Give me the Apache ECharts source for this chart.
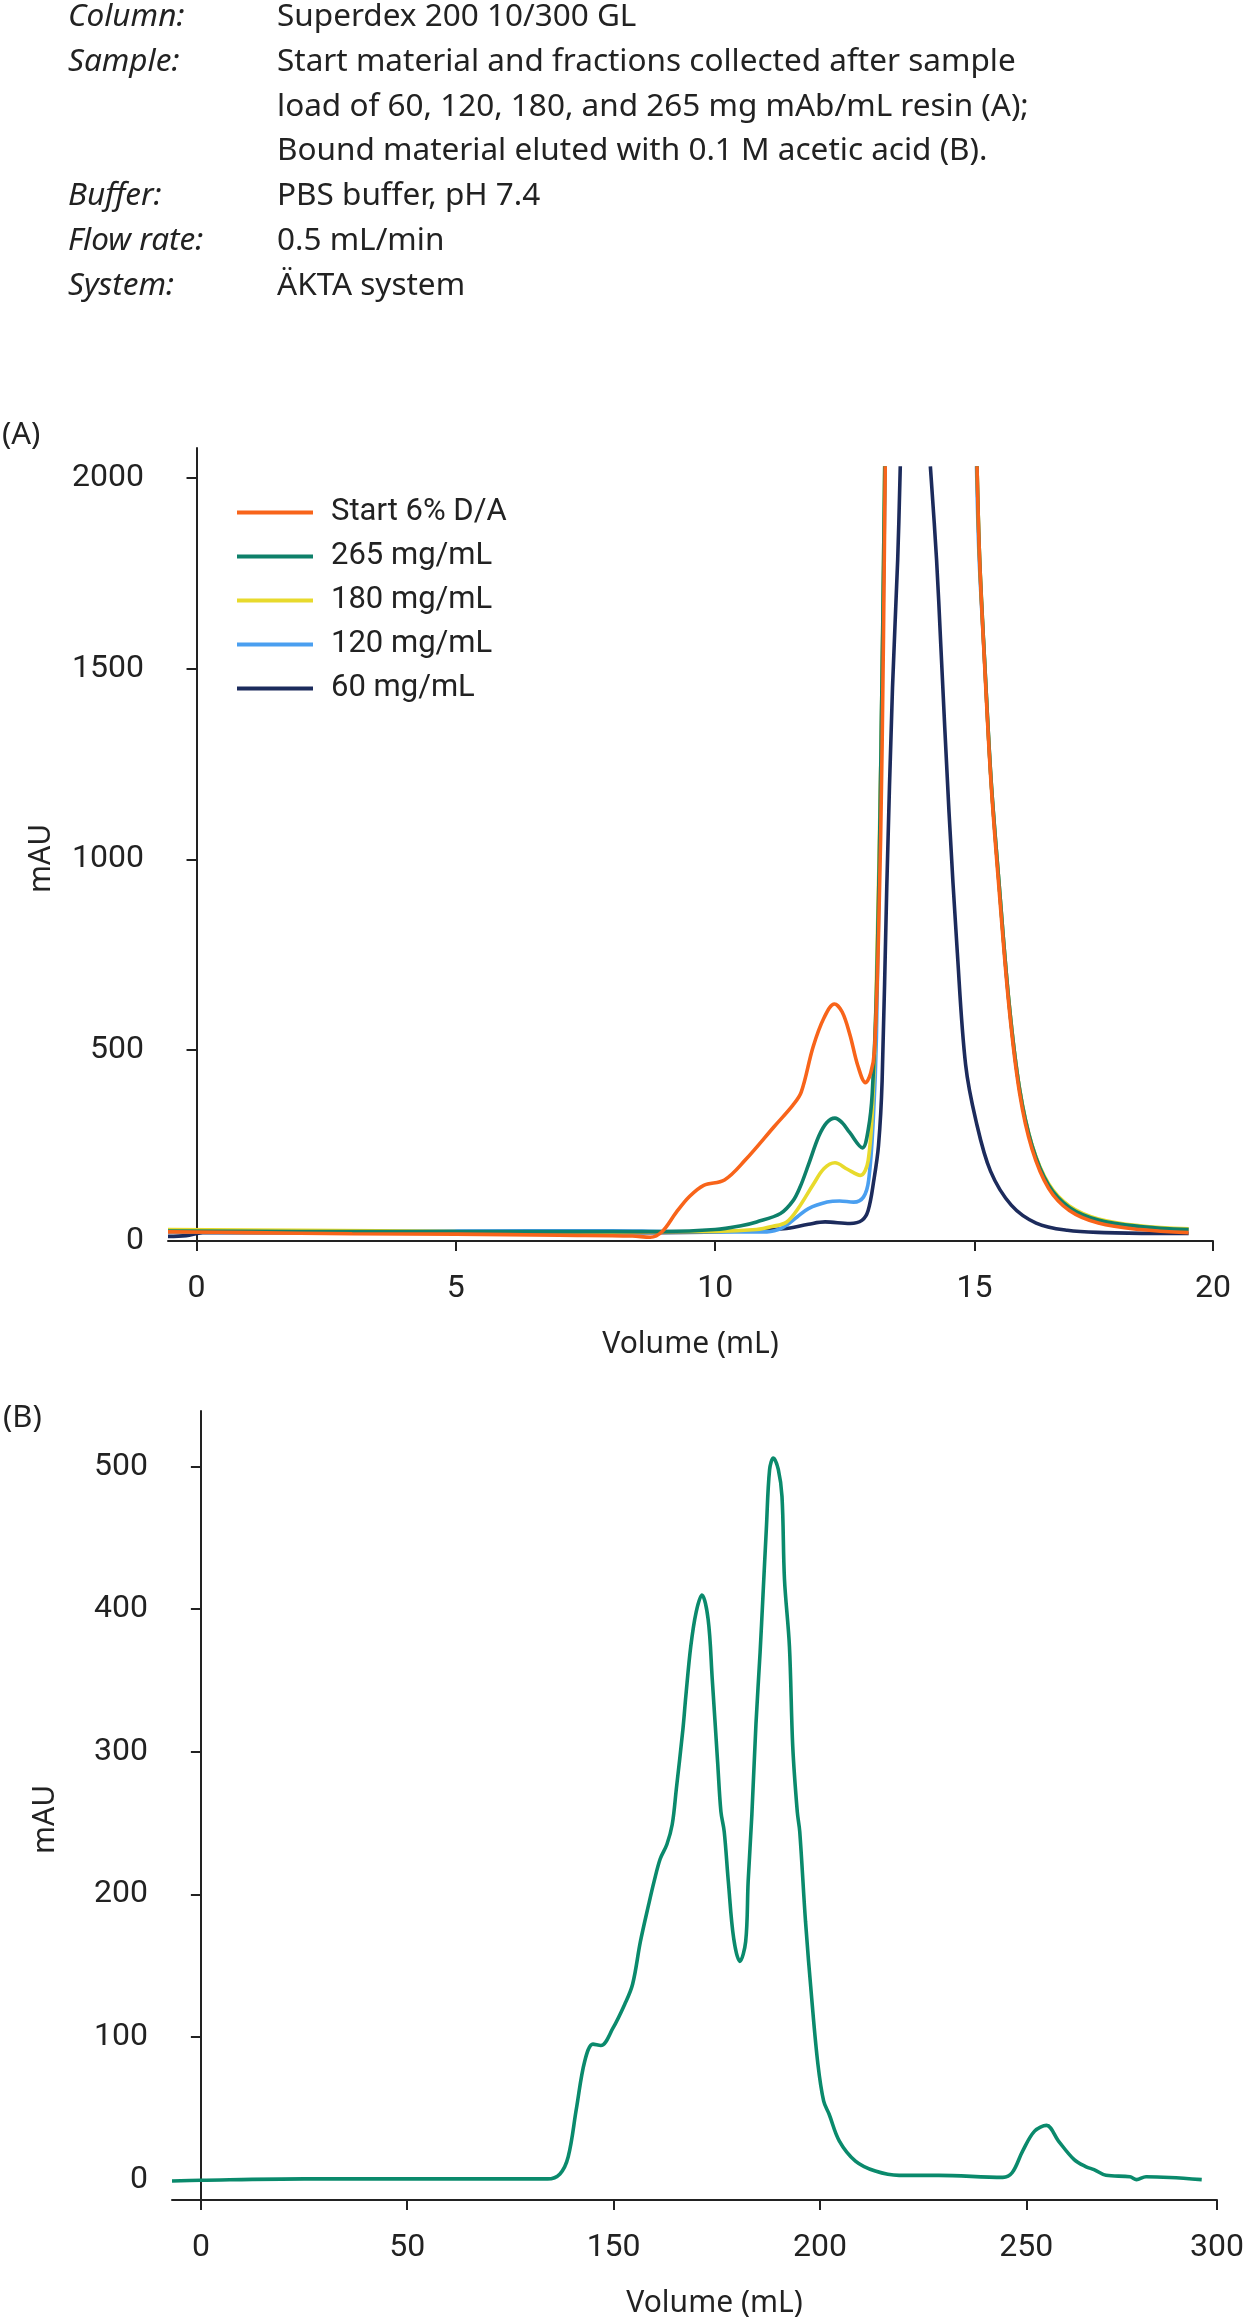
<!DOCTYPE html>
<html>
<head>
<meta charset="utf-8">
<script src="https://cdn.jsdelivr.net/npm/echarts@6/dist/echarts.min.js"></script>
<style>
  html, body { margin: 0; padding: 0; background: #fff; }
  #main { width: 1247px; height: 2319px; }
</style>
</head>
<body>
<div id="main"></div>
<script>
// header text
const metaLabels = ['Column:', 'Sample:', '', '', 'Buffer:', 'Flow rate:', 'System:'];
const metaValues = [
  'Superdex 200 10/300 GL',
  'Start material and fractions collected after sample',
  'load of 60, 120, 180, and 265 mg mAb/mL resin (A);',
  'Bound material eluted with 0.1 M acetic acid (B).',
  'PBS buffer, pH 7.4',
  '0.5 mL/min',
  'ÄKTA system'
];

// (A) axis ticks: the printed "20" sits at the end of the axis
const xTickPosA = [0, 5, 10, 15, 19.6];
const xTickLabelA = ['0', '5', '10', '15', '20'];
const yTicksA = [0, 500, 1000, 1500, 2000];

// (B) axis ticks as printed on the figure (no 100 label)
const xTickPosB = [0, 50, 100, 150, 200, 246.2];
const xTickLabelB = ['0', '50', '150', '200', '250', '300'];
const yTicksB = [0, 100, 200, 300, 400, 500];

// (A) traces, [volume, mAU]; '-' = off scale (above 2030)
const start6 = [[-0.55,24],[1,22],[3,19],[5,18],[7,15],[8.4,13],[8.75,10],[8.98,25],[9.25,75],[9.5,116],[9.78,146],[10.18,160],[10.58,212],[11.14,300],[11.5,356],[11.66,390],[11.89,509],[12.1,585],[12.3,621],[12.45,600],[12.6,540],[12.75,460],[12.9,415],[13.0,440],[13.07,495],[13.15,800],[13.22,1300],[13.28,2030],'-',[15.05,2030],[15.1,1785],[15.2,1500],[15.32,1200],[15.47,930],[15.67,609],[15.87,388],[16.11,241],[16.43,138],[16.83,80],[17.39,47],[18.19,30],[19.13,22]];
const load265 = [[-0.55,26],[2,25],[5,25],[8,25],[9,25],[10,30],[10.5,40],[10.8,50],[11.26,72],[11.5,105],[11.64,142],[11.8,200],[12.0,275],[12.15,310],[12.31,322],[12.45,310],[12.59,285],[12.84,244],[12.95,290],[13.03,388],[13.12,700],[13.2,1300],[13.27,2030],'-',[15.05,2030],[15.1,1790],[15.2,1510],[15.32,1210],[15.47,945],[15.67,620],[15.87,398],[16.11,250],[16.43,146],[16.83,88],[17.39,55],[18.19,38],[19.13,30]];
const load180 = [[-0.55,30],[2,28],[5,25],[8,24],[10,25],[10.8,30],[11.1,38],[11.38,50],[11.6,85],[11.9,150],[12.1,190],[12.31,205],[12.55,188],[12.8,172],[12.95,210],[13.05,400],[13.11,682],[13.2,1300],[13.27,2030],'-',[15.05,2030],[15.1,1790],[15.2,1510],[15.32,1210],[15.47,945],[15.67,622],[15.87,400],[16.11,252],[16.43,150],[16.83,92],[17.39,58],[18.19,40],[19.13,32]];
const load120 = [[-0.55,24],[2,24],[5,26],[8,27],[9,25],[10,24],[11,24],[11.3,35],[11.58,63],[11.8,85],[12.16,102],[12.4,105],[12.67,102],[12.86,115],[12.96,159],[13.05,320],[13.11,535],[13.2,1300],[13.28,2030],'-',[15.04,2030],[15.09,1790],[15.2,1510],[15.32,1210],[15.47,945],[15.67,620],[15.87,398],[16.11,250],[16.43,146],[16.83,88],[17.39,55],[18.19,38],[19.13,30]];
const load60 = [[-0.55,12],[-0.2,14],[0.12,22],[2,22],[5,22],[8,22],[10,24],[11.32,32],[11.8,44],[12.12,50],[12.6,46],[12.83,54],[12.95,80],[13.06,159],[13.15,250],[13.22,420],[13.31,930],[13.42,1450],[13.52,1785],[13.57,2030],'-',[14.15,2030],[14.27,1785],[14.35,1565],[14.51,1123],[14.67,756],[14.83,462],[15.03,315],[15.31,183],[15.71,94],[16.19,47],[16.79,28],[17.5,22],[18.5,20],[19.13,20]];

// (B) acetic acid eluate, [axis position, mAU]
const eluate = [[-7,-1],[0,-0.5],[25,0.5],[50,0.5],[84,0.5],[87,4],[89,16],[91,50],[93,83],[95,95],[96.9,94],[99.8,106],[102.7,123],[104.6,137],[106.5,167],[108.5,193],[109.8,209],[111.3,225],[112.9,235],[114.2,249],[115.2,274],[116.8,316],[117.5,339],[118.7,374],[120,398],[121.4,410],[122.9,393],[123.9,351],[125.2,293],[126,258],[126.8,244],[127.8,209],[129.1,169],[130.6,153],[132,167],[132.6,209],[133.5,256],[134.5,320],[135.5,370],[136.2,410],[137,456],[137.8,498],[138.7,506],[139.9,498],[140.8,479],[141.4,421],[142.6,374],[143.4,304],[144.5,258],[145.1,244],[146.5,181],[148,127],[149.5,81],[150.9,55],[152.2,46],[154.7,27],[158.6,13],[163.4,6],[169.2,3],[178.8,3],[194.3,1.6],[196.6,5],[199.1,20],[202,34],[204.9,38],[207.8,27],[211.6,14],[214.5,9],[216.4,7],[219.3,3],[225.1,2],[226.7,0],[229,2],[234.8,1.5],[242.5,0]];

const FONT = '"Noto Sans", Roboto, sans-serif';
const CHART_FONT = 'Roboto, "Noto Sans", sans-serif';
const INK = '#222222';

function labelFor(pos, labels) {
  return function (v) {
    for (let i = 0; i < pos.length; i++) {
      if (Math.abs(pos[i] - v) < 1e-6) return labels[i];
    }
    return '';
  };
}

function makeXAxis(gridIndex, min, max, pos, labels, nameShift) {
  return {
    type: 'value', gridIndex: gridIndex, min: min, max: max,
    name: 'Volume (mL)', nameLocation: 'middle', nameGap: 88,
    nameTextStyle: { fontFamily: FONT, fontSize: 30, color: INK, padding: [0, 0, 0, nameShift] },
    axisLine: { show: true, onZero: false, lineStyle: { color: INK, width: 2 } },
    axisTick: { show: true, length: 10, lineStyle: { color: INK, width: 2 }, customValues: pos },
    axisLabel: { fontFamily: CHART_FONT, fontSize: 32, color: INK, margin: 32, customValues: pos, formatter: labelFor(pos, labels) },
    splitLine: { show: false }
  };
}

function makeYAxis(gridIndex, min, max, ticks) {
  return {
    type: 'value', gridIndex: gridIndex, min: min, max: max,
    name: 'mAU', nameLocation: 'middle', nameGap: 112,
    nameTextStyle: { fontFamily: FONT, fontSize: 30, color: INK, padding: [0, 28, 0, 0] },
    axisLine: { show: true, lineStyle: { color: INK, width: 2 } },
    axisTick: { show: true, length: 10, lineStyle: { color: INK, width: 2 }, customValues: ticks },
    axisLabel: { fontFamily: CHART_FONT, fontSize: 32, color: INK, margin: 24, customValues: ticks, formatter: function (v) { return String(v); } },
    splitLine: { show: false }
  };
}

function trace(name, data, color, xi) {
  return {
    name: name, type: 'line', data: data, xAxisIndex: xi, yAxisIndex: xi,
    showSymbol: false, smooth: 0.35, connectNulls: false,
    lineStyle: { color: color, width: 3.6 }, itemStyle: { color: color },
    silent: true, animation: false
  };
}

const headerGraphics = [];
metaValues.forEach(function (val, i) {
  const y = 21 + i * 44.8;
  if (metaLabels[i]) {
    headerGraphics.push({ type: 'text', left: 68, top: y - 20,
      style: { text: metaLabels[i], fontFamily: FONT, fontSize: 31.5, fontStyle: 'italic', fill: INK } });
  }
  headerGraphics.push({ type: 'text', left: 277, top: y - 20,
    style: { text: val, fontFamily: FONT, fontSize: 31.5, fill: INK } });
});

const chart = echarts.init(document.getElementById('main'));
chart.setOption({
  backgroundColor: '#ffffff',
  animation: false,
  graphic: headerGraphics.concat([
    { type: 'text', left: 2, top: 420, style: { text: '(A)', fontFamily: FONT, fontSize: 31, fill: INK } },
    { type: 'text', left: 3, top: 1403, style: { text: '(B)', fontFamily: FONT, fontSize: 31, fill: INK } }
  ]),
  legend: {
    data: ['Start 6% D/A', '265 mg/mL', '180 mg/mL', '120 mg/mL', '60 mg/mL'],
    orient: 'vertical', left: 232, top: 492, icon: 'rect',
    itemWidth: 76, itemHeight: 4, itemGap: 13, selectedMode: false,
    textStyle: { fontFamily: CHART_FONT, fontSize: 31, color: INK, padding: [0, 0, 0, 13] }
  },
  grid: [
    { left: 168, top: 448, width: 1045, height: 793 },
    { left: 172, top: 1411, width: 1045, height: 792 }
  ],
  xAxis: [
    makeXAxis(0, -0.55, 19.6, xTickPosA, xTickLabelA, 0),
    makeXAxis(1, -7, 246.2, xTickPosB, xTickLabelB, 40)
  ],
  yAxis: [
    makeYAxis(0, 0, 2078, yTicksA),
    makeYAxis(1, -14.3, 539, yTicksB)
  ],
  series: [
    trace('60 mg/mL', load60, '#1C2B5C', 0),
    trace('120 mg/mL', load120, '#4A9FF0', 0),
    trace('180 mg/mL', load180, '#E8DA2C', 0),
    trace('265 mg/mL', load265, '#0E806A', 0),
    trace('Start 6% D/A', start6, '#F8641A', 0),
    trace('Eluate', eluate, '#0A8A6C', 1)
  ]
});
</script>
</body>
</html>
